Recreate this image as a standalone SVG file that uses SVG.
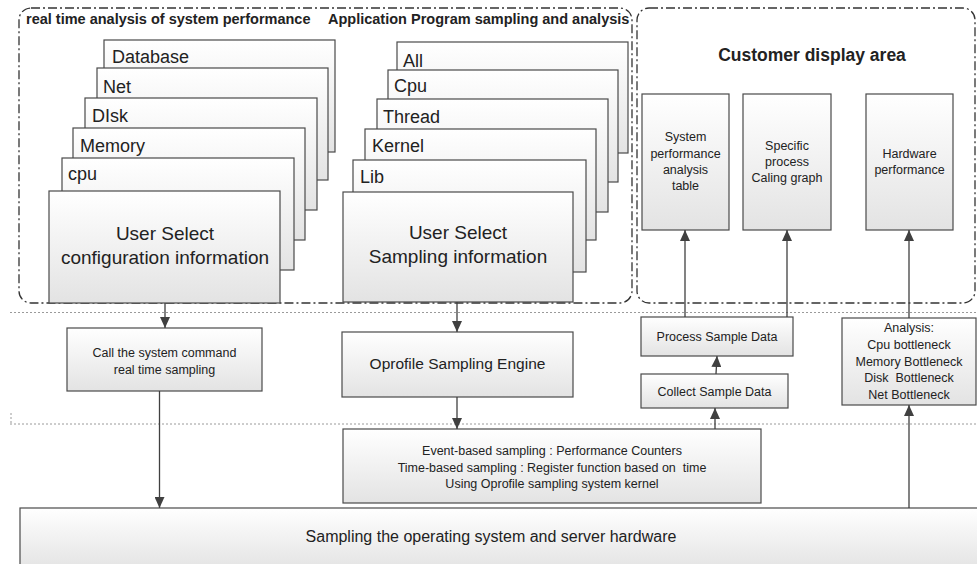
<svg xmlns="http://www.w3.org/2000/svg" width="977" height="564" viewBox="0 0 977 564">
<defs>
<linearGradient id="g" x1="0" y1="0" x2="0" y2="1">
<stop offset="0" stop-color="#ffffff"/>
<stop offset="1" stop-color="#e3e3e3"/>
</linearGradient>
<marker id="ah" markerUnits="userSpaceOnUse" markerWidth="11" markerHeight="10" refX="11" refY="5" orient="auto">
<path d="M0,0 L11,5 L0,10 z" fill="#404040"/>
</marker>
<style>
.box{fill:url(#g);stroke:#4a4a4a;stroke-width:1.2}
.region{fill:none;stroke:#333;stroke-width:1.3;stroke-dasharray:9 3 2 3}
.sep{fill:none;stroke:#9a9a9a;stroke-width:1;stroke-dasharray:2 2}
.conn{fill:none;stroke:#404040;stroke-width:1.3;marker-end:url(#ah)}
text{font-family:"Liberation Sans",Arial,sans-serif;fill:#222}
.lab{font-size:18px}
.big{font-size:19px;text-anchor:middle}
.ttl{font-size:14.5px;font-weight:bold}
.sm{font-size:12.5px;text-anchor:middle}
.md{font-size:15.5px;text-anchor:middle}
</style>
</defs>
<rect width="977" height="564" fill="#ffffff"/>

<g id="separators">
<path class="sep" d="M10,312.5 H977 M10,424 H977 M11,413 V424"/>
</g>

<g id="region-left">
<rect class="region" x="19" y="8" width="613" height="295" rx="12"/>
<text class="ttl" x="26" y="24">real time analysis of system performance</text>
<text class="ttl" x="328" y="24">Application Program sampling and analysis</text>
</g>

<g id="region-customer">
<rect class="region" x="637" y="8" width="338" height="295" rx="12"/>
<text x="812" y="61" style="font-size:17.5px;font-weight:bold;text-anchor:middle">Customer display area</text>
</g>

<g id="config-stack">
<g id="n-database"><rect class="box" x="104" y="40" width="231" height="112"/><text class="lab" x="112" y="63">Database</text></g>
<g id="n-net"><rect class="box" x="97" y="68" width="231" height="112"/><text class="lab" x="103" y="93">Net</text></g>
<g id="n-disk"><rect class="box" x="85" y="98" width="232" height="112"/><text class="lab" x="92" y="122">DIsk</text></g>
<g id="n-memory"><rect class="box" x="73" y="128" width="232" height="112"/><text class="lab" x="80" y="152">Memory</text></g>
<g id="n-cpu"><rect class="box" x="62" y="158" width="232" height="112"/><text class="lab" x="68" y="180">cpu</text></g>
<g id="n-user-config"><rect class="box" x="49" y="191" width="231" height="112"/><text class="big" x="165" y="240">User Select</text><text class="big" x="165" y="264">configuration information</text></g>
</g>

<g id="sampling-stack">
<g id="n-all"><rect class="box" x="397" y="42" width="231" height="111"/><text class="lab" x="403" y="67">All</text></g>
<g id="n-cpu2"><rect class="box" x="388" y="70" width="230" height="112"/><text class="lab" x="394" y="92">Cpu</text></g>
<g id="n-thread"><rect class="box" x="377" y="99" width="231" height="113"/><text class="lab" x="383" y="123">Thread</text></g>
<g id="n-kernel"><rect class="box" x="365" y="129" width="231" height="111"/><text class="lab" x="372" y="152">Kernel</text></g>
<g id="n-lib"><rect class="box" x="353" y="160" width="233" height="112"/><text class="lab" x="360" y="183">Lib</text></g>
<g id="n-user-sampling"><rect class="box" x="343" y="192" width="230" height="110"/><text class="big" x="458" y="239">User Select</text><text class="big" x="458" y="263">Sampling information</text></g>
</g>

<g id="n-sys-table"><rect class="box" x="642" y="94" width="87" height="136"/>
<text class="sm" x="685.5" y="141">System</text><text class="sm" x="685.5" y="158">performance</text><text class="sm" x="685.5" y="174">analysis</text><text class="sm" x="685.5" y="190">table</text></g>
<g id="n-call-graph"><rect class="box" x="743" y="94" width="88" height="136"/>
<text class="sm" x="787" y="150">Specific</text><text class="sm" x="787" y="166">process</text><text class="sm" x="787" y="182">Caling graph</text></g>
<g id="n-hardware"><rect class="box" x="866" y="94" width="87" height="136"/>
<text class="sm" x="909.5" y="158">Hardware</text><text class="sm" x="909.5" y="174">performance</text></g>

<g id="n-call-system"><rect class="box" x="67" y="328" width="195" height="63"/>
<text class="sm" x="164.5" y="357">Call the system command</text><text class="sm" x="164.5" y="374">real time sampling</text></g>

<g id="n-oprofile"><rect class="box" x="342" y="332" width="231" height="65"/>
<text class="md" x="457.5" y="369">Oprofile Sampling Engine</text></g>

<g id="n-process"><rect class="box" x="641" y="317" width="152" height="39"/>
<text class="sm" x="717" y="341">Process Sample Data</text></g>
<g id="n-collect"><rect class="box" x="641" y="374" width="147" height="34"/>
<text class="sm" x="714.5" y="395.5">Collect Sample Data</text></g>

<g id="n-analysis"><rect class="box" x="842" y="318" width="134" height="87"/>
<text class="sm" x="909" y="332">Analysis:</text><text class="sm" x="909" y="349">Cpu bottleneck</text><text class="sm" x="909" y="366">Memory Bottleneck</text><text class="sm" x="909" y="382" xml:space="preserve">Disk  Bottleneck</text><text class="sm" x="909" y="399">Net Bottleneck</text></g>

<g id="n-event"><rect class="box" x="343" y="429" width="418" height="74"/>
<text class="sm" x="552" y="455">Event-based sampling : Performance Counters</text>
<text class="sm" x="552" y="471.5" xml:space="preserve">Time-based sampling : Register function based on  time</text>
<text class="sm" x="552" y="488">Using Oprofile sampling system kernel</text></g>

<g id="n-bottom"><rect class="box" x="20" y="508" width="960" height="62"/>
<text x="491" y="542" style="font-size:16px;text-anchor:middle">Sampling the operating system and server hardware</text></g>

<g id="connectors">
<path class="conn" d="M165,303 V328"/>
<path class="conn" d="M159.5,391 V508"/>
<path class="conn" d="M457,302 V332"/>
<path class="conn" d="M457,397 V429"/>
<path class="conn" d="M715,429 V408"/>
<path class="conn" d="M716,374 L717,356"/>
<path class="conn" d="M685,317 V230"/>
<path class="conn" d="M787,317 V230"/>
<path class="conn" d="M909,508 V405"/>
<path class="conn" d="M909,318 V230"/>
</g>
</svg>
